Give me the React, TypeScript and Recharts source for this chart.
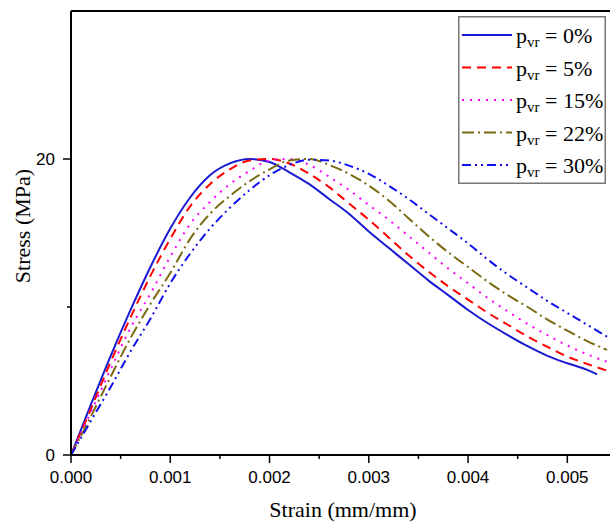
import React from 'react';
import { LineChart, Line, XAxis, YAxis, ReferenceLine, Legend, Label } from 'recharts';

const strain = [0, 0.0002, 0.0004, 0.0006, 0.0008, 0.001, 0.0012, 0.0014, 0.0016, 0.0018, 0.002, 0.0022, 0.0024, 0.0026, 0.0028, 0.003, 0.0032, 0.0034, 0.0036, 0.0038, 0.004, 0.0042, 0.0044, 0.0046, 0.0048, 0.005, 0.0052, 0.0054];
const strain0 = [0, 0.0002, 0.0004, 0.0006, 0.0008, 0.001, 0.0012, 0.0014, 0.0016, 0.0018, 0.002, 0.0022, 0.0024, 0.0026, 0.0028, 0.003, 0.0032, 0.0034, 0.0036, 0.0038, 0.004, 0.0042, 0.0044, 0.0046, 0.0048, 0.005, 0.0052, 0.0053];

const stress0 = [0, 3.4, 6.7, 9.8, 12.7, 15.3, 17.4, 18.9, 19.7, 20.0, 19.8, 19.1, 18.3, 17.3, 16.3, 15.1, 14.0, 12.9, 11.8, 10.8, 9.8, 8.9, 8.1, 7.35, 6.7, 6.2, 5.75, 5.45];
const stress5 = [0, 3.1, 6.3, 9.3, 12.1, 14.6, 16.8, 18.3, 19.3, 19.9, 20.0, 19.7, 19.0, 18.1, 17.0, 15.9, 14.7, 13.5, 12.4, 11.4, 10.5, 9.6, 8.8, 8.0, 7.3, 6.65, 6.15, 5.7];
const stress15 = [0, 2.9, 5.8, 8.6, 10.9, 13.4, 15.6, 17.1, 18.3, 19.2, 19.9, 20.0, 19.6, 18.8, 17.9, 16.9, 15.9, 14.8, 13.7, 12.6, 11.6, 10.6, 9.7, 8.85, 8.1, 7.4, 6.8, 6.3];
const stress22 = [0, 2.6, 5.3, 7.9, 10.2, 12.3, 14.6, 16.3, 17.5, 18.5, 19.3, 19.9, 20.0, 19.6, 19.0, 18.2, 17.2, 16.0, 14.8, 13.7, 12.7, 11.7, 10.8, 10.0, 9.15, 8.4, 7.7, 7.1];
const stress30 = [0, 2.3, 4.6, 7.0, 9.2, 11.6, 13.6, 15.3, 16.7, 17.9, 18.9, 19.6, 19.95, 19.9, 19.55, 19.0, 18.2, 17.3, 16.3, 15.3, 14.3, 13.2, 12.2, 11.3, 10.4, 9.6, 8.8, 8.0];

const seriesNames = ['0%', '5%', '15%', '22%', '30%'];
const seriesColors = ['#1a1ad2', '#ff0000', '#ff00ff', '#7a6a12', '#1010ee'];
const seriesDashes = ['', '9 6', '2 6', '12 4 2 4', '9 4 2 4 2 4'];

const xTicks = [0, 0.0005, 0.001, 0.0015, 0.002, 0.0025, 0.003, 0.0035, 0.004, 0.0045, 0.005];
const yTicks = [0, 10, 20];
const yLabeled = [0, 20];

const toPoints = (xs: number[], ys: number[]) => xs.map((x, i) => ({ x, y: ys[i] }));
const seriesData = [
  toPoints(strain0, stress0),
  toPoints(strain, stress5),
  toPoints(strain, stress15),
  toPoints(strain, stress22),
  toPoints(strain, stress30),
];

const XTick = (props: any) => {
  const { x, y, payload } = props;
  const v = payload.value;
  const major = Math.round(v * 10000) % 10 === 0;
  return (
    <g>
      <line x1={x} x2={x} y1={y} y2={y + (major ? 8 : 4)} stroke="#000" strokeWidth={1.5} />
      {major && (
        <text x={x} y={y + 28} textAnchor="middle" fontSize={17} fontFamily="'Liberation Sans', Arial, sans-serif" fill="#000">
          {v.toFixed(3)}
        </text>
      )}
    </g>
  );
};

const YTick = (props: any) => {
  const { x, y, payload } = props;
  const v = payload.value;
  const major = yLabeled.includes(v);
  return (
    <g>
      <line x1={x - (major ? 8 : 4)} x2={x} y1={y} y2={y} stroke="#000" strokeWidth={1.5} />
      {major && (
        <text x={x - 16} y={y + 6} textAnchor="end" fontSize={17} fontFamily="'Liberation Sans', Arial, sans-serif" fill="#000">
          {v}
        </text>
      )}
    </g>
  );
};

const LegendBox = () => (
  <svg width={148} height={168} style={{ display: 'block' }}>
    <rect x={0.75} y={0.75} width={146.5} height={166.5} fill="#fff" stroke="#777" strokeWidth={1.5} />
    {seriesNames.map((n, i) => {
      const base = 27 + i * 32.5;
      return (
        <g key={n}>
          <line x1={4} x2={54} y1={base - 8} y2={base - 8} stroke={seriesColors[i]} strokeWidth={2} strokeDasharray={seriesDashes[i] || undefined} />
          <text x={58} y={base} fontSize={22} fontFamily="'Liberation Serif', 'Times New Roman', serif" fill="#000">
            <tspan>p</tspan>
            <tspan fontSize={15} dy={4}>vr</tspan>
            <tspan dy={-4}>{` = ${n}`}</tspan>
          </text>
        </g>
      );
    })}
  </svg>
);

export default function App() {
  return (
    <div style={{ position: 'absolute', left: 0, top: 0, width: 610, height: 526, background: '#fff' }}>
      <LineChart width={610} height={526} margin={{ top: 11, right: 0, left: 0, bottom: 0 }}>
        <XAxis
          dataKey="x"
          type="number"
          domain={[0, 0.00543]}
          allowDataOverflow
          ticks={xTicks}
          tick={<XTick />}
          tickLine={false}
          tickSize={0}
          tickMargin={0}
          axisLine={{ stroke: '#000', strokeWidth: 2 }}
          height={71}
          interval={0}
        >
          <Label
            content={() => (
              <text x={343} y={517} textAnchor="middle" fontSize={22} fontFamily="'Liberation Serif', 'Times New Roman', serif" fill="#000">
                Strain (mm/mm)
              </text>
            )}
          />
        </XAxis>
        <YAxis
          type="number"
          domain={[0, 30]}
          ticks={yTicks}
          tick={<YTick />}
          tickLine={false}
          tickSize={0}
          tickMargin={0}
          axisLine={{ stroke: '#000', strokeWidth: 2 }}
          width={71}
          interval={0}
        >
          <Label
            content={() => (
              <text x={30} y={226} transform="rotate(-90 30 226)" textAnchor="middle" fontSize={22} fontFamily="'Liberation Serif', 'Times New Roman', serif" fill="#000">
                Stress (MPa)
              </text>
            )}
          />
        </YAxis>
        <ReferenceLine y={30} stroke="#000" strokeWidth={2} />
        {seriesData.map((d, i) => (
          <Line
            key={seriesNames[i]}
            data={d}
            dataKey="y"
            name={`pvr = ${seriesNames[i]}`}
            type="monotone"
            dot={false}
            activeDot={false}
            stroke={seriesColors[i]}
            strokeWidth={2}
            strokeDasharray={seriesDashes[i] || undefined}
            isAnimationActive={false}
          />
        ))}
        <Legend
          layout="vertical"
          align="center"
          verticalAlign="middle"
          content={() => <LegendBox />}
          wrapperStyle={{ position: 'absolute', left: 458, top: 16, width: 148, height: 168 }}
        />
      </LineChart>
    </div>
  );
}
